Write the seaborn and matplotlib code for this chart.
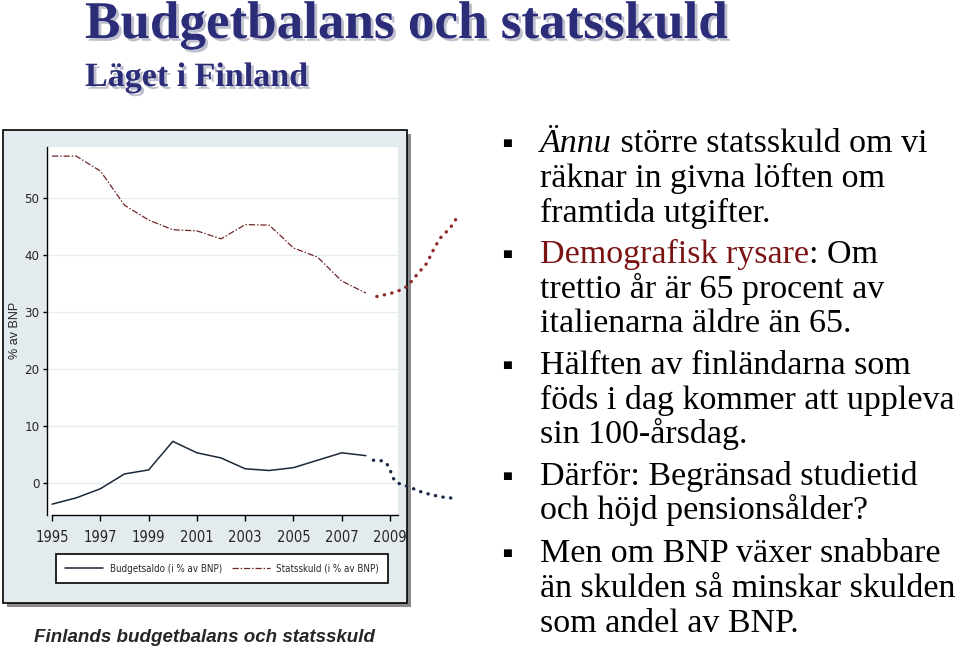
import pandas as pd
import matplotlib.pyplot as plt
import matplotlib.patheffects as pe
from matplotlib.patches import Rectangle
import seaborn as sns

years = list(range(1995, 2009))
budget = [-3.7, -2.6, -1.0, 1.6, 2.3, 7.3, 5.3, 4.4, 2.5, 2.2, 2.7, 4.0, 5.3, 4.8]
debt = [57.3, 57.3, 54.7, 48.7, 46.1, 44.4, 44.2, 42.8, 45.3, 45.2, 41.2, 39.6, 35.4, 33.3]

# forecast part, drawn dotted past the right edge of the plot
proj_years_budget = [2008.31, 2008.66, 2008.86, 2009.0, 2009.14, 2009.28, 2009.76, 2010.38, 2011.07, 2011.69]
proj_budget = [4.0, 3.9, 3.45, 2.3, 0.8, 0.06, -0.64, -1.7, -2.4, -2.7]
proj_years_debt = [2008.45, 2009.0, 2009.55, 2009.76, 2010.11, 2010.52, 2010.8, 2011.07, 2011.49, 2011.83]
proj_debt = [32.7, 33.2, 34.0, 34.7, 36.5, 38.5, 40.9, 42.9, 44.7, 46.9]

xticks = [1995, 1997, 1999, 2001, 2003, 2005, 2007, 2009]
yticks = [0, 10, 20, 30, 40, 50]

bullets = [
    [("Ännu", "italic", "black"), (" större statsskuld om vi", "normal", "black")],
    [("räknar in givna löften om", "normal", "black")],
    [("framtida utgifter.", "normal", "black")],
    [("Demografisk rysare", "normal", "#7a1414"), (": Om", "normal", "black")],
    [("trettio år är 65 procent av", "normal", "black")],
    [("italienarna äldre än 65.", "normal", "black")],
    [("Hälften av finländarna som", "normal", "black")],
    [("föds i dag kommer att uppleva", "normal", "black")],
    [("sin 100-årsdag.", "normal", "black")],
    [("Därför: Begränsad studietid", "normal", "black")],
    [("och höjd pensionsålder?", "normal", "black")],
    [("Men om BNP växer snabbare", "normal", "black")],
    [("än skulden så minskar skulden", "normal", "black")],
    [("som andel av BNP.", "normal", "black")],
]
line_base = [152, 187, 222, 263, 298, 332, 374, 409, 443, 485, 519, 562, 597, 632]
bullet_rows = [0, 3, 6, 9, 11]

df = pd.DataFrame({"year": years, "budget": budget, "debt": debt})
dfb = pd.DataFrame({"year": proj_years_budget, "val": proj_budget})
dfd = pd.DataFrame({"year": proj_years_debt, "val": proj_debt})

sns.set_style("white")
W, H = 960, 653
fig = plt.figure(figsize=(9.6, 6.53), dpi=100)
fig.patch.set_facecolor("white")

# grey chart panel with shadow
fig.patches.append(Rectangle((7 / W, (H - 607) / H), 404 / W, 473 / H, transform=fig.transFigure,
                             facecolor="#8a8a8a", edgecolor="none", zorder=-3))
fig.patches.append(Rectangle((3 / W, (H - 603) / H), 404 / W, 473 / H, transform=fig.transFigure,
                             facecolor="#e3ebee", edgecolor="black", lw=1.2, zorder=-2))

ax = fig.add_axes([47 / W, (H - 515) / H, 351 / W, 368 / H])
ax.set_facecolor("white")

sns.lineplot(data=df, x="year", y="budget", ax=ax, color="#1b2838", lw=1.1,
             label="Budgetsaldo (i % av BNP)")
sns.lineplot(data=df, x="year", y="debt", ax=ax, color="#6e2626", lw=0.9,
             label="Statsskuld (i % av BNP)")
ax.lines[-1].set_dashes([5, 1.5, 1.2, 1.5])
sns.lineplot(data=dfb, x="year", y="val", ax=ax, color="#1c2a48", lw=2.4, legend=False,
             clip_on=False, dash_capstyle="round")
ax.lines[-1].set_dashes([0.1, 2.2])
sns.lineplot(data=dfd, x="year", y="val", ax=ax, color="#8e2a2a", lw=2.4, legend=False,
             clip_on=False, dash_capstyle="round")
ax.lines[-1].set_dashes([0.1, 2.2])

ax.set_xlim(1994.79, 2009.33)
ax.set_ylim(-5.6, 58.9)
ax.set_xticks(xticks)
ax.set_yticks(yticks)
ax.set_xlabel("")
ax.set_ylabel("")
ax.yaxis.grid(True, color="#e6eef0", lw=1)
ax.xaxis.grid(False)
for s in ["top", "right"]:
    ax.spines[s].set_visible(False)
ax.spines["left"].set_color("black")
ax.spines["bottom"].set_color("black")
ax.spines["left"].set_linewidth(1)
ax.spines["bottom"].set_linewidth(1)
ax.spines["bottom"].set_bounds(1995, 2009.33)
ax.tick_params(axis="x", direction="out", length=4.5, width=1, color="black",
               labelsize=10.5, pad=6, bottom=True)
ax.tick_params(axis="y", direction="out", length=3, width=1, color="black",
               labelsize=9.5, pad=2.5, left=True)
for lab in ax.get_xticklabels() + ax.get_yticklabels():
    lab.set_family("DejaVu Sans")
    lab.set_stretch("condensed")

leg = ax.legend(loc="center", bbox_to_anchor=(222 / W, (H - 568.5) / H),
                bbox_transform=fig.transFigure,
                ncol=2, frameon=True, fancybox=False, edgecolor="black", framealpha=1,
                handlelength=3.9, handletextpad=0.7, columnspacing=1.0, borderpad=0.95, borderaxespad=0,
                prop={"family": "DejaVu Sans", "stretch": "condensed", "size": 7})
leg.get_frame().set_linewidth(1.2)

fig.text(15 / W, (H - 330) / H, "% av BNP", rotation=90, ha="center", va="center",
         fontsize=9, family="Liberation Sans")

fig.text(205 / W, (H - 642) / H, "Finlands budgetbalans och statsskuld", ha="center", va="baseline",
         fontsize=13.5, fontweight="bold", fontstyle="italic", family="Liberation Sans")

shadow = [pe.SimplePatchShadow(offset=(2, -2), shadow_rgbFace="#b8b8c8", alpha=0.9), pe.Normal()]
fig.text(85 / W, (H - 38) / H, "Budgetbalans och statsskuld", ha="left", va="baseline",
         fontsize=38.2, fontweight="bold", family="Liberation Serif", color="#2b2d78", path_effects=shadow)
fig.text(85 / W, (H - 86) / H, "Läget i Finland", ha="left", va="baseline",
         fontsize=24.5, fontweight="bold", family="Liberation Serif", color="#2b2d78", path_effects=shadow)

# bullet text on the right; extra fragments follow the first one on the same line
for i, (parts, base) in enumerate(zip(bullets, line_base)):
    txt, style, col = parts[0]
    t = fig.text(540 / W, (H - base) / H, txt, ha="left", va="baseline", fontsize=24.5,
                 family="Liberation Serif", fontstyle=style, color=col)
    for txt, style, col in parts[1:]:
        t = ax.annotate(txt, xy=(1, 0), xycoords=t, ha="left", va="bottom", fontsize=24.5,
                        family="Liberation Serif", fontstyle=style, color=col, annotation_clip=False)
    if i in bullet_rows:
        fig.text(507 / W, (H - base + 6) / H, "■", ha="center", va="baseline", fontsize=7.5,
                 family="DejaVu Sans", color="black")

plt.savefig("out.png", dpi=100)
